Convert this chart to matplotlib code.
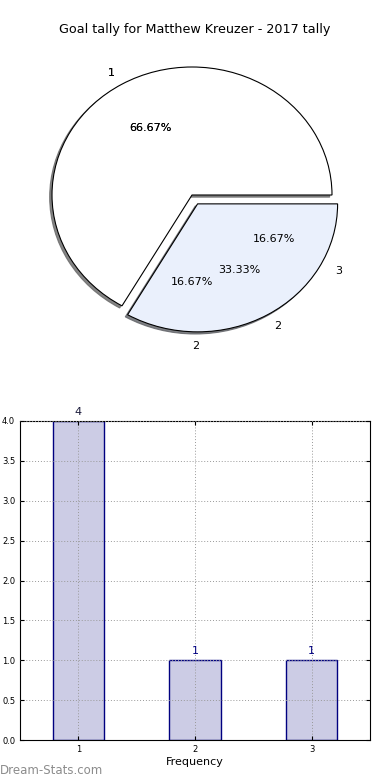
import matplotlib
matplotlib.use("Agg")
import matplotlib.pyplot as plt

title = "Goal tally for Matthew Kreuzer - 2017 tally"
pie_a_labels = ["1", "2"]
pie_a_values = [4, 2]
pie_b_labels = ["1", "2", "3"]
pie_b_values = [4, 1, 1]
bar_cats = [1, 2, 3]
bar_vals = [4, 1, 1]

fig = plt.figure(figsize=(3.9, 7.8), dpi=100)
fig.patch.set_facecolor("white")

# Pie
axp = fig.add_axes([17/390, 1-355/780, 350/390, 320/780])
e = 0.08
wa, ta, pa = axp.pie(pie_a_values, labels=pie_a_labels, autopct="%.2f%%",
                     explode=[0, e], shadow=dict(ox=-0.012, oy=-0.012, shade=0.6, alpha=0.8),
                     colors=["white", "#eaf0fc"],
                     wedgeprops=dict(edgecolor="black", linewidth=0.8),
                     textprops=dict(fontsize=8))
wb, tb, pb = axp.pie(pie_b_values, labels=pie_b_labels, autopct="%.2f%%",
                     explode=[0, e, e],
                     colors=["white", "#eaf0fc", "#eaf0fc"],
                     textprops=dict(fontsize=8))
for w in wb:
    w.set_visible(False)
axp.set_aspect("auto")
axp.set_xlim(-1.25, 1.25)
axp.set_ylim(-1.25, 1.25)
axp.axis("off")

fig.text(0.5, 1-30/780, title, ha="center", va="center", fontsize=9.2)

# Bar
axb = fig.add_axes([20/390, 40/780, 350/390, 319/780])
bars = axb.bar(bar_cats, bar_vals, width=0.44, color="#ccccе5".replace("е", "e"),
               edgecolor="navy", linewidth=1.0, zorder=1)
for x, v in zip(bar_cats, bar_vals):
    axb.text(x, v + 0.05, str(v), ha="center", va="bottom", fontsize=8,
             color="navy" if v != 4 else "#1a1a3a")
axb.set_xlim(0.5, 3.5)
axb.set_ylim(0, 4.0)
axb.set_xticks(bar_cats)
axb.set_yticks([0, 0.5, 1.0, 1.5, 2.0, 2.5, 3.0, 3.5, 4.0])
axb.set_yticklabels(["0.0", "0.5", "1.0", "1.5", "2.0", "2.5", "3.0", "3.5", "4.0"])
axb.tick_params(labelsize=6, direction="in", top=True, right=True, length=3)
axb.grid(True, linestyle=(0, (1, 2)), color="#999999", linewidth=0.7, zorder=3)
axb.set_axisbelow(False)
axb.set_xlabel("Frequency", fontsize=8, labelpad=2)

fig.text(0.0, 1-770/780, "Dream-Stats.com", ha="left", va="center",
         fontsize=8.5, color="#8c8c8c")

fig.savefig("out.png", dpi=100, facecolor="white")
